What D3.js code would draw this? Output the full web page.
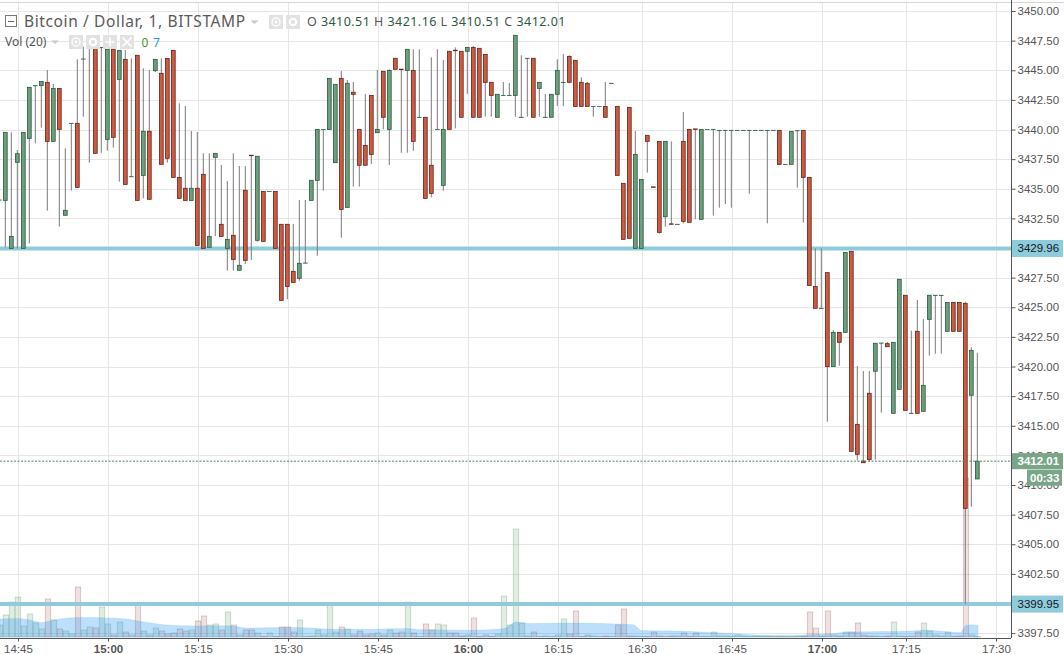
<!DOCTYPE html>
<html>
<head>
<meta charset="utf-8">
<script src="https://cdn.jsdelivr.net/npm/d3@7"></script>
<style>
  html, body { margin: 0; padding: 0; background: #fff; overflow: hidden; }
  svg { display: block; }
  .price-axis text, .time-axis text { font-family: "Liberation Sans", Arial, sans-serif; font-size: 11.5px; fill: #555; }
  .price-axis path, .price-axis line, .time-axis path, .time-axis line { stroke: #555; }
  .legend { font-family: "Noto Sans", "Open Sans", sans-serif; }
</style>
</head>
<body>
<svg id="chart" width="1064" height="654"></svg>
<script>
// 1 minute bars, the first one is cut off by the left edge of the chart
const opens = [
  3434.05, 3434.02, 3429.97, 3437.23, 3429.97, 3439.25, 3443.70, 3443.70, 3443.98, 3439.00,
  3443.47, 3432.76, 3440.52, 3440.52, 3445.95, 3446.96, 3446.93, 3446.93, 3439.17, 3446.77,
  3444.23, 3445.92, 3436.02, 3446.26, 3436.13, 3439.85, 3444.96, 3444.74, 3446.00, 3446.68,
  3435.96, 3435.04, 3434.02, 3435.04, 3436.22, 3430.06, 3437.65, 3432.00, 3429.97, 3431.07,
  3428.12, 3434.87, 3437.83, 3430.65, 3434.78, 3434.78, 3434.78, 3432.00, 3432.00, 3428.03,
  3427.44, 3428.73, 3434.02, 3435.71, 3440.01, 3440.01, 3437.20, 3444.32, 3433.43, 3443.14,
  3440.01, 3438.66, 3442.88, 3439.73, 3444.91, 3440.01, 3446.01, 3445.09, 3444.99, 3444.99,
  3441.03, 3441.03, 3436.98, 3440.01, 3435.29, 3446.60, 3446.69, 3446.60, 3446.60, 3446.93,
  3446.85, 3446.34, 3443.98, 3441.03, 3442.88, 3442.88, 3442.88, 3441.03, 3446.01, 3446.01,
  3443.47, 3441.03, 3441.03, 3442.97, 3443.98, 3446.17, 3445.84, 3443.98, 3443.90, 3441.95,
  3441.95, 3441.95, 3443.90, 3441.95, 3435.46, 3441.87, 3429.97, 3429.97, 3439.51, 3435.16,
  3439.00, 3432.64, 3432.04, 3432.00, 3439.00, 3440.01, 3440.05, 3432.42, 3440.01, 3440.01,
  3439.93, 3439.93, 3439.93, 3439.93, 3439.93, 3439.93, 3439.93, 3439.93, 3439.93, 3439.93,
  3439.93, 3437.06, 3437.06, 3439.90, 3439.93, 3435.96, 3426.76, 3424.91, 3427.92, 3419.99,
  3422.88, 3422.88, 3429.72, 3415.12, 3412.02, 3417.74, 3419.60, 3421.98, 3421.93, 3416.05,
  3418.07, 3426.01, 3416.05, 3422.97, 3416.22, 3423.98, 3426.01, 3426.01, 3422.97, 3425.41,
  3425.41, 3425.33, 3417.57, 3410.51
];
const closes = [
  3434.05, 3439.76, 3430.98, 3437.96, 3439.76, 3443.56, 3443.70, 3444.06, 3439.00, 3443.47,
  3440.01, 3433.18, 3440.52, 3435.12, 3445.95, 3446.96, 3437.99, 3446.93, 3446.77, 3439.34,
  3446.68, 3435.37, 3436.02, 3434.02, 3439.85, 3434.11, 3445.92, 3437.06, 3437.57, 3435.96,
  3434.19, 3434.02, 3435.04, 3430.22, 3429.97, 3430.98, 3437.99, 3430.98, 3430.73, 3429.04,
  3428.54, 3428.96, 3437.79, 3437.74, 3430.56, 3434.78, 3429.97, 3425.58, 3426.76, 3427.10,
  3428.71, 3428.73, 3435.71, 3440.01, 3440.01, 3444.32, 3443.81, 3433.26, 3443.90, 3442.97,
  3436.98, 3436.98, 3437.90, 3440.01, 3441.03, 3444.99, 3445.08, 3445.05, 3446.77, 3439.00,
  3441.03, 3434.19, 3434.61, 3440.01, 3440.01, 3440.01, 3446.65, 3441.03, 3446.93, 3441.03,
  3441.03, 3443.98, 3442.88, 3442.97, 3442.88, 3442.88, 3447.95, 3441.03, 3446.01, 3441.03,
  3443.98, 3441.03, 3442.97, 3444.99, 3443.98, 3443.98, 3441.95, 3441.95, 3441.95, 3441.95,
  3441.95, 3441.03, 3443.90, 3436.13, 3430.73, 3430.82, 3437.90, 3435.79, 3439.00, 3435.12,
  3431.32, 3439.00, 3432.00, 3432.00, 3432.25, 3432.17, 3440.01, 3440.01, 3440.01, 3440.01,
  3439.93, 3439.93, 3439.93, 3439.93, 3439.93, 3439.93, 3439.93, 3439.93, 3439.93, 3439.93,
  3437.06, 3437.06, 3439.84, 3439.90, 3435.96, 3426.84, 3424.91, 3424.91, 3419.99, 3422.88,
  3422.04, 3429.63, 3412.84, 3412.59, 3411.88, 3412.14, 3421.96, 3421.98, 3421.67, 3422.04,
  3427.36, 3416.30, 3416.05, 3416.05, 3418.41, 3426.01, 3426.01, 3426.01, 3425.41, 3422.97,
  3422.97, 3408.03, 3421.36, 3412.01
];
const highs = [
  3434.05, 3439.76, 3439.76, 3438.27, 3439.76, 3443.56, 3443.70, 3444.06, 3445.02, 3443.84,
  3443.47, 3438.41, 3440.52, 3445.92, 3446.99, 3446.96, 3446.93, 3446.93, 3446.93, 3446.77,
  3446.68, 3446.71, 3446.00, 3446.26, 3445.16, 3445.02, 3445.92, 3446.00, 3446.00, 3446.68,
  3442.21, 3441.98, 3439.87, 3439.79, 3437.99, 3437.99, 3437.99, 3437.00, 3435.65, 3437.99,
  3436.92, 3436.92, 3437.83, 3437.74, 3434.78, 3434.78, 3434.78, 3432.00, 3432.00, 3432.03,
  3434.05, 3434.05, 3435.71, 3440.01, 3440.01, 3444.32, 3443.81, 3444.94, 3444.18, 3444.01,
  3440.01, 3443.00, 3442.88, 3445.02, 3444.91, 3445.08, 3446.01, 3445.09, 3446.77, 3446.77,
  3446.77, 3441.03, 3446.09, 3446.77, 3445.87, 3446.60, 3446.93, 3446.60, 3446.93, 3447.05,
  3446.85, 3446.34, 3443.98, 3442.97, 3444.01, 3443.92, 3447.95, 3446.26, 3446.01, 3446.01,
  3443.98, 3443.00, 3442.97, 3445.92, 3446.37, 3446.26, 3445.84, 3444.40, 3444.01, 3441.95,
  3441.95, 3444.01, 3443.90, 3441.95, 3435.46, 3441.87, 3439.87, 3435.79, 3439.51, 3435.16,
  3439.00, 3439.00, 3439.00, 3432.00, 3441.48, 3440.01, 3440.05, 3440.01, 3440.01, 3440.01,
  3439.93, 3439.93, 3439.93, 3439.93, 3439.93, 3439.93, 3439.93, 3439.93, 3439.93, 3439.93,
  3439.93, 3437.06, 3439.84, 3439.90, 3439.93, 3435.96, 3429.97, 3429.97, 3427.92, 3423.08,
  3422.88, 3429.63, 3429.72, 3420.04, 3419.62, 3419.62, 3421.96, 3421.98, 3422.07, 3422.04,
  3427.36, 3426.01, 3423.02, 3425.61, 3424.01, 3426.01, 3426.01, 3426.01, 3425.41, 3425.41,
  3425.41, 3425.47, 3421.62, 3421.16
];
const lows = [
  3434.05, 3430.06, 3429.97, 3429.97, 3429.97, 3430.39, 3438.83, 3440.15, 3433.15, 3439.00,
  3431.80, 3432.76, 3434.84, 3435.12, 3441.08, 3437.20, 3437.99, 3437.99, 3438.21, 3438.47,
  3435.60, 3435.37, 3436.02, 3434.02, 3434.19, 3434.11, 3444.85, 3437.06, 3437.20, 3435.96,
  3434.19, 3434.02, 3434.02, 3430.22, 3429.97, 3430.06, 3431.01, 3430.98, 3428.09, 3428.09,
  3428.12, 3428.65, 3428.99, 3430.53, 3430.56, 3434.78, 3429.97, 3425.58, 3425.67, 3427.10,
  3427.24, 3428.73, 3434.02, 3429.35, 3434.84, 3440.01, 3437.20, 3430.87, 3433.43, 3435.18,
  3435.18, 3436.98, 3437.09, 3439.73, 3440.01, 3437.00, 3445.08, 3438.04, 3438.04, 3438.21,
  3441.03, 3434.19, 3434.28, 3440.01, 3434.84, 3440.01, 3440.10, 3441.03, 3443.00, 3441.03,
  3441.03, 3441.08, 3441.08, 3441.03, 3442.88, 3442.88, 3441.08, 3441.03, 3441.08, 3441.03,
  3441.08, 3441.03, 3441.03, 3441.98, 3441.98, 3443.98, 3441.95, 3441.95, 3441.95, 3441.08,
  3441.95, 3441.03, 3443.90, 3436.13, 3430.73, 3430.82, 3429.97, 3429.97, 3436.36, 3435.12,
  3431.21, 3431.80, 3432.00, 3432.00, 3432.08, 3432.17, 3432.42, 3432.42, 3440.01, 3432.73,
  3433.40, 3433.71, 3433.40, 3439.93, 3439.93, 3434.58, 3439.93, 3439.93, 3432.08, 3439.93,
  3437.06, 3437.06, 3437.06, 3435.09, 3432.14, 3426.84, 3424.91, 3424.91, 3415.34, 3419.99,
  3420.07, 3422.88, 3412.84, 3412.08, 3411.88, 3411.97, 3412.14, 3416.11, 3421.67, 3416.05,
  3418.07, 3416.30, 3416.05, 3416.05, 3416.22, 3420.91, 3421.08, 3421.08, 3422.97, 3422.97,
  3422.97, 3399.95, 3408.17, 3410.51
];
const volumes = [
  12, 22, 35, 40, 11, 23, 14, 8, 38, 17,
  8, 6, 3, 50, 7, 10, 9, 30, 13, 2,
  15, 5, 2, 32, 6, 2, 9, 6, 3, 4,
  8, 6, 7, 16, 21, 12, 13, 7, 25, 12,
  2, 7, 7, 4, 0.5, 4, 0.5, 10, 10, 5,
  17, 0.5, 1, 7, 2, 34, 5, 10, 8, 2,
  6, 2, 3, 4, 2, 7, 4, 5, 35, 4,
  0.5, 13, 7, 13, 12, 4, 4, 1, 2, 19,
  0.5, 2, 0.5, 3, 41, 12, 108, 14, 1, 5,
  0.5, 1, 0.5, 2, 18, 3, 26, 0.5, 2, 1,
  0.5, 1, 0.5, 12, 28, 1, 1, 0.5, 0.5, 5,
  1, 0.5, 1, 1, 4, 0.5, 4, 0.5, 0.5, 5,
  1, 1, 0.5, 2, 1, 0.5, 1, 1, 1, 0.5,
  0.5, 0.5, 0.5, 1, 1, 25, 9, 1, 26, 2,
  1, 5, 5, 14, 2, 1, 1, 0.5, 1, 15,
  1, 0.5, 1, 5, 14, 6, 2, 1, 5, 0.5,
  1, 159, 2, 0.5
];

// volume moving average at the bars where it bends
const maBars = [0, 3, 5, 7, 9, 13, 17, 21, 24, 29, 33, 38, 41, 47, 52, 55, 62, 68, 70, 79, 84, 86, 88, 95, 103, 105.5, 107, 113, 122, 128, 133, 135, 138, 141, 152, 154, 160, 161, 162, 163];
const maValues = [18, 18.6, 17, 14.5, 17, 19.6, 19.3, 18, 15, 11.5, 11, 11.2, 9, 9.5, 9, 7.8, 7.8, 8.5, 7.4, 6.8, 8.5, 15, 13.4, 14, 13, 12.3, 6.5, 6, 3.4, 1.4, 1.4, 2.4, 3, 4.8, 6, 7, 4.4, 11.6, 12.3, 11.6];

const priceTicks = [3397.5, 3400, 3402.5, 3405, 3407.5, 3410, 3412.5, 3415, 3417.5, 3420, 3422.5, 3425, 3427.5, 3430, 3432.5, 3435, 3437.5, 3440, 3442.5, 3445, 3447.5, 3450];
const timeBars = [3, 18, 33, 48, 63, 78, 93, 107, 122, 137, 151, 166];
const timeLabels = ['14:45', '15:00', '15:15', '15:30', '15:45', '16:00', '16:15', '16:30', '16:45', '17:00', '17:15', '17:30'];
const boldLabels = ['15:00', '16:00', '17:00'];
const levels = [3429.96, 3399.95];
const lastPrice = 3412.01;
const countdown = '00:33';

const svg = d3.select('#chart');
const plotRight = 1011;
const plotBottom = 638;

const x = d3.scaleLinear().domain([0, 168]).range([0, 1008]);
const y = d3.scaleLinear().domain([3440, 3420]).range([129.5, 366.5]);
const volY = d3.scaleLinear().domain([0, 108]).range([637, 529]);

const fmt = d3.format('.2f');
const upFill = '#6d9f7f', upEdge = '#2a5a3e';
const downFill = '#cf5a40', downEdge = '#65231a';
const wickColor = '#7a7a7c';
const barShift = -0.7; // candles sit a bit left of the time gridlines

// top strip
svg.append('line').attr('x1', 0).attr('x2', 1064).attr('y1', 2.5).attr('y2', 2.5)
  .attr('stroke', '#d5d5dc').attr('stroke-width', 1.2);

// grid
svg.append('g').selectAll('line').data(priceTicks).join('line')
  .attr('x1', 0).attr('x2', plotRight)
  .attr('y1', d => Math.round(y(d)) + 0.5).attr('y2', d => Math.round(y(d)) + 0.5)
  .attr('stroke', '#e6e6e6');
svg.append('g').selectAll('line').data(timeBars).join('line')
  .attr('x1', d => x(d) + 0.5).attr('x2', d => x(d) + 0.5)
  .attr('y1', 3).attr('y2', plotBottom)
  .attr('stroke', '#e6e6e6');

// volume bars and their moving average
const isUp = i => closes[i] >= opens[i];
svg.append('g').selectAll('rect').data(volumes).join('rect')
  .attr('x', (d, i) => x(i) - 2.7)
  .attr('width', 5.4)
  .attr('y', d => volY(d))
  .attr('height', d => volY(0) - volY(d))
  .attr('fill', (d, i) => isUp(i) ? 'rgba(120,175,125,0.22)' : 'rgba(165,90,85,0.18)')
  .attr('stroke', (d, i) => isUp(i) ? 'rgba(60,120,70,0.28)' : 'rgba(110,50,45,0.28)')
  .attr('stroke-width', 0.8);

const maArea = d3.area()
  .x((d, i) => x(maBars[i]))
  .y0(volY(0))
  .y1(d => volY(d))
  .curve(d3.curveMonotoneX);
svg.append('path').datum(maValues)
  .attr('d', maArea)
  .attr('fill', 'rgba(33,150,243,0.3)')
  .attr('stroke', 'rgba(33,150,243,0.12)');

// horizontal levels
svg.append('g').selectAll('line').data(levels).join('line')
  .attr('x1', 0).attr('x2', plotRight)
  .attr('y1', d => y(d)).attr('y2', d => y(d))
  .attr('stroke', '#8ecbdb').attr('stroke-width', 4);

// candles
const candles = svg.append('g').selectAll('g').data(opens).join('g');
candles.append('line')
  .attr('x1', (d, i) => x(i) + barShift).attr('x2', (d, i) => x(i) + barShift)
  .attr('y1', (d, i) => y(highs[i])).attr('y2', (d, i) => y(lows[i]))
  .attr('stroke', wickColor).attr('stroke-width', 1);
candles.append('rect')
  .attr('x', (d, i) => x(i) + barShift - 1.9)
  .attr('width', 3.8)
  .attr('y', (d, i) => y(Math.max(opens[i], closes[i])))
  .attr('height', (d, i) => Math.max(0.1, Math.abs(y(opens[i]) - y(closes[i]))))
  .attr('fill', (d, i) => isUp(i) ? upFill : downFill)
  .attr('stroke', (d, i) => isUp(i) ? upEdge : downEdge)
  .attr('stroke-width', 0.8);

// last price line
svg.append('line')
  .attr('x1', 0).attr('x2', plotRight)
  .attr('y1', y(lastPrice)).attr('y2', y(lastPrice))
  .attr('stroke', '#3f8f5f').attr('stroke-width', 1).attr('stroke-dasharray', '2 1.5');

// axes
const priceAxis = d3.axisRight(y).tickValues(priceTicks).tickFormat(fmt).tickSize(4).tickPadding(2);
svg.append('g').attr('class', 'price-axis')
  .attr('transform', `translate(${plotRight + 0.5},0)`)
  .call(priceAxis)
  .call(g => g.select('.domain').attr('d', `M0,0V${plotBottom}`));

const timeAxis = d3.axisBottom(x).tickValues(timeBars)
  .tickFormat((d, i) => timeLabels[i]).tickSize(3).tickPadding(3);
svg.append('g').attr('class', 'time-axis')
  .attr('transform', `translate(0,${plotBottom + 0.5})`)
  .call(timeAxis)
  .call(g => g.select('.domain').attr('d', `M0,0H${plotRight}`))
  .selectAll('text')
  .style('font-weight', d => boldLabels.includes(timeLabels[timeBars.indexOf(d)]) ? 'bold' : 'normal');

// price boxes on the axis
const boxes = svg.append('g');
boxes.selectAll('rect').data(levels).join('rect')
  .attr('x', plotRight + 1).attr('width', 51)
  .attr('y', d => y(d) - 8.5).attr('height', 17)
  .attr('fill', '#8ecbdb');
boxes.selectAll('text').data(levels).join('text')
  .attr('x', 1017.5).attr('y', d => y(d) + 4)
  .attr('font-family', '"Liberation Sans", Arial, sans-serif').attr('font-size', 11.5)
  .attr('fill', '#131722')
  .text(fmt);

boxes.append('rect').attr('x', plotRight + 1).attr('width', 51)
  .attr('y', y(lastPrice) - 8).attr('height', 16).attr('fill', '#79a686');
boxes.append('rect').attr('x', 1027).attr('width', 35)
  .attr('y', y(lastPrice) + 8.5).attr('height', 16).attr('fill', '#79a686');
boxes.append('text').attr('x', 1017.5).attr('y', y(lastPrice) + 4)
  .attr('font-family', '"Liberation Sans", Arial, sans-serif').attr('font-size', 11.5).attr('font-weight', 'bold')
  .attr('fill', '#fff').text(fmt(lastPrice));
boxes.append('text').attr('x', 1030).attr('y', y(lastPrice) + 20.5)
  .attr('font-family', '"Liberation Sans", Arial, sans-serif').attr('font-size', 11.5).attr('font-weight', 'bold')
  .attr('fill', '#fff').text(countdown);

// legend
const legend = svg.append('g').attr('class', 'legend');
legend.append('rect').attr('x', 5.5).attr('y', 15.5).attr('width', 11).attr('height', 11)
  .attr('fill', '#fff').attr('stroke', '#777');
legend.append('line').attr('x1', 8).attr('x2', 14).attr('y1', 21.5).attr('y2', 21.5).attr('stroke', '#666');
legend.append('text').attr('x', 24).attr('y', 27).attr('font-size', 15.5).attr('letter-spacing', 0.62)
  .attr('fill', '#5a5a5a').text('Bitcoin / Dollar, 1, BITSTAMP');

function caret(cx, cy) {
  legend.append('path').attr('d', `M${cx - 4},${cy}h8l-4,3.5z`).attr('fill', '#c8c8c8');
}
caret(254.5, 20.5);
caret(55, 40.5);

// little grey buttons next to the titles
const buttons = [[269, 15, 'eye'], [286, 15, 'gear'], [69, 35, 'eye'], [86, 35, 'gear'], [103, 35, 'plus'], [120, 35, 'cross']];
buttons.forEach(([bx, by, kind]) => {
  legend.append('rect').attr('x', bx).attr('y', by).attr('width', 14).attr('height', 14).attr('fill', '#e2e2e2');
  const cx = bx + 7, cy = by + 7;
  if (kind === 'eye' || kind === 'gear') {
    legend.append('circle').attr('cx', cx).attr('cy', cy).attr('r', kind === 'eye' ? 4 : 3.2)
      .attr('fill', 'none').attr('stroke', '#fff').attr('stroke-width', kind === 'eye' ? 1.3 : 2);
    if (kind === 'eye') legend.append('circle').attr('cx', cx).attr('cy', cy).attr('r', 1.4).attr('fill', '#fff');
  } else {
    const r = 4.5;
    const d = kind === 'plus' ? `M${cx - r},${cy}H${cx + r}M${cx},${cy - r}V${cy + r}`
      : `M${cx - r},${cy - r}L${cx + r},${cy + r}M${cx + r},${cy - r}L${cx - r},${cy + r}`;
    legend.append('path').attr('d', d).attr('stroke', '#fff').attr('stroke-width', 1.6);
  }
});

const ohlcText = legend.append('text').attr('y', 26).attr('font-size', 12.5).attr('letter-spacing', 0.45);
[['O ', '#555'], ['3410.51', '#2c5a41'], [' H ', '#555'], ['3421.16', '#2c5a41'], [' L ', '#555'], ['3410.51', '#2c5a41'], [' C ', '#555'], ['3412.01', '#2c5a41']]
  .forEach(([t, c], i) => {
    const span = ohlcText.append('tspan').attr('fill', c).attr('xml:space', 'preserve').text(t);
    if (i === 0) span.attr('x', 307);
  });

legend.append('text').attr('x', 5).attr('y', 46).attr('font-size', 12).attr('fill', '#555').text('Vol (20)');
legend.append('text').attr('x', 141.5).attr('y', 46.5).attr('font-size', 12).attr('fill', '#3c9a2e').text('0');
legend.append('text').attr('x', 153).attr('y', 46.5).attr('font-size', 12).attr('fill', '#2196f3').text('7');
</script>
</body>
</html>
